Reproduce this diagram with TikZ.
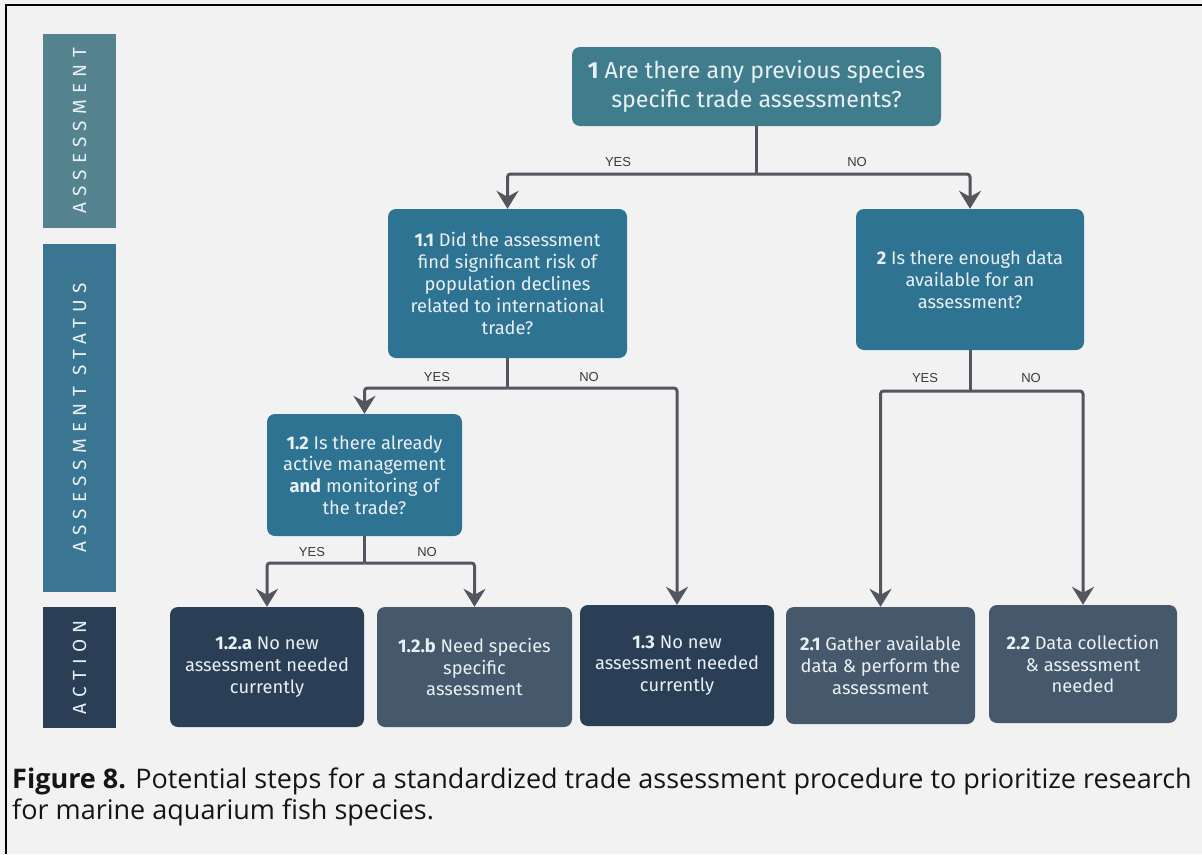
\documentclass[tikz,border=0pt]{standalone}
\usepackage{fontspec}
\setmainfont{Fira Sans}
\newfontfamily\capfont{Open Sans}
\newfontfamily\lblfont{Liberation Sans}
\newfontfamily\sidefont[LetterSpace=33]{Fira Sans}
\usetikzlibrary{arrows.meta}
\definecolor{bgc}{HTML}{F2F2F2}
\definecolor{tealA}{HTML}{3F7D8C}
\definecolor{blueB}{HTML}{2F7393}
\definecolor{navy}{HTML}{2A3E55}
\definecolor{slate}{HTML}{46586C}
\definecolor{sideA}{HTML}{55838F}
\definecolor{sideB}{HTML}{3A7592}
\definecolor{sideC}{HTML}{2A3E55}
\definecolor{arrc}{HTML}{54555F}
\definecolor{txtw}{HTML}{E9F0F3}
\definecolor{lblc}{HTML}{3A3A3A}
\definecolor{capc}{HTML}{151515}
\tikzset{
  box/.style={rounded corners=8pt, inner sep=0pt, align=center, text=txtw,
    font=\fontsize{18.3}{21.8}\selectfont},
  side/.style={rotate=90, inner sep=0pt, text=txtw, font=\sidefont\fontsize{19}{21}\selectfont},
  conn/.style={draw=arrc, line width=3pt, rounded corners=3pt},
  arr/.style={conn, -{Stealth[length=18pt, width=22pt, inset=6pt]}},
  lbl/.style={text=lblc, font=\lblfont\fontsize{13}{15}\selectfont, inner sep=0pt},
  captxt/.style={anchor=base west, inner sep=0pt, text=capc, font=\capfont\fontsize{27}{31}\selectfont}
}
\begin{document}
\begin{tikzpicture}[x=1pt,y=-1pt]
\fill[bgc] (0,0) rectangle (1202,854);
\useasboundingbox (0,0) rectangle (1202,854);
\draw[line width=2.5pt] (6,854) -- (6,5) -- (1202,5);

% sidebar
\node[side, fill=sideA, minimum width=194pt, minimum height=73pt] (s1) at (79.5,131) {ASSESSMENT};
\node[side, fill=sideB, minimum width=348pt, minimum height=73pt] (s2) at (79.5,418) {ASSESSMENT STATUS};
\node[side, fill=sideC, minimum width=121pt, minimum height=73pt] (s3) at (79.5,667.5) {ACTION};

% question nodes
\node[box, fill=tealA, minimum width=369pt, minimum height=79pt,
  font=\fontsize{23.2}{29}\selectfont] (n1) at (756.5,86.5)
  {\textbf{1} Are there any previous species\\specific trade assessments?};
\node[box, fill=blueB, minimum width=239pt, minimum height=149pt] (n11) at (507.5,283.5)
  {\textbf{1.1} Did the assessment\\find significant risk of\\population declines\\related to international\\trade?};
\node[box, fill=blueB, minimum width=228pt, minimum height=141pt] (n2) at (970,279.5)
  {\textbf{2} Is there enough data\\available for an\\assessment?};
\node[box, fill=blueB, minimum width=195pt, minimum height=122pt] (n12) at (364.5,475)
  {\textbf{1.2} Is there already\\active management\\\textbf{and} monitoring of\\the trade?};

% action nodes
\node[box, fill=navy, minimum width=194pt, minimum height=120pt] (a12a) at (267,667)
  {\textbf{1.2.a} No new\\assessment needed\\currently};
\node[box, fill=slate, minimum width=195pt, minimum height=120pt] (a12b) at (474.5,667)
  {\textbf{1.2.b} Need species\\specific\\assessment};
\node[box, fill=navy, minimum width=194pt, minimum height=121pt] (a13) at (677,665.5)
  {\textbf{1.3} No new\\assessment needed\\currently};
\node[box, fill=slate, minimum width=189pt, minimum height=117pt] (a21) at (880.5,665.5)
  {\textbf{2.1} Gather available\\data \& perform the\\assessment};
\node[box, fill=slate, minimum width=188pt, minimum height=118pt] (a22) at (1083,664)
  {\textbf{2.2} Data collection\\\& assessment\\needed};

% connectors
\coordinate (j1) at (756.5,174);
\draw[conn] (n1.south) -- (j1);
\draw[arr] (j1) -| (n11.north);
\draw[arr] (j1) -| (n2.north);
\node[lbl] (y1) at (618,162) {YES};
\node[lbl] (no1) at (857,162) {NO};

\coordinate (j11) at (507.5,388);
\draw[conn] (n11.south) -- (j11);
\draw[arr] (j11) -| (n12.north);
\draw[arr] (j11) -| (a13.north);
\node[lbl] (y11) at (437,377) {YES};
\node[lbl] (no11) at (589,377) {NO};

\coordinate (j12) at (364.5,563);
\draw[conn] (n12.south) -- (j12);
\draw[arr] (j12) -| (a12a.north);
\draw[arr] (j12) -| (a12b.north);
\node[lbl] (y12) at (312,552) {YES};
\node[lbl] (no12) at (427,552) {NO};

\coordinate (j2) at (970,391);
\draw[conn] (n2.south) -- (j2);
\draw[arr] (j2) -| (a21.north);
\draw[arr] (j2) -| (a22.north);
\node[lbl] (y2) at (925,378) {YES};
\node[lbl] (no2) at (1031,378) {NO};

% caption
\node[captxt] (cap1) at (12,788)
  {\textbf{Figure 8.} Potential steps for a standardized trade assessment procedure to prioritize research};
\node[captxt] (cap2) at (12,819) {for marine aquarium fish species.};
\end{tikzpicture}
\end{document}
